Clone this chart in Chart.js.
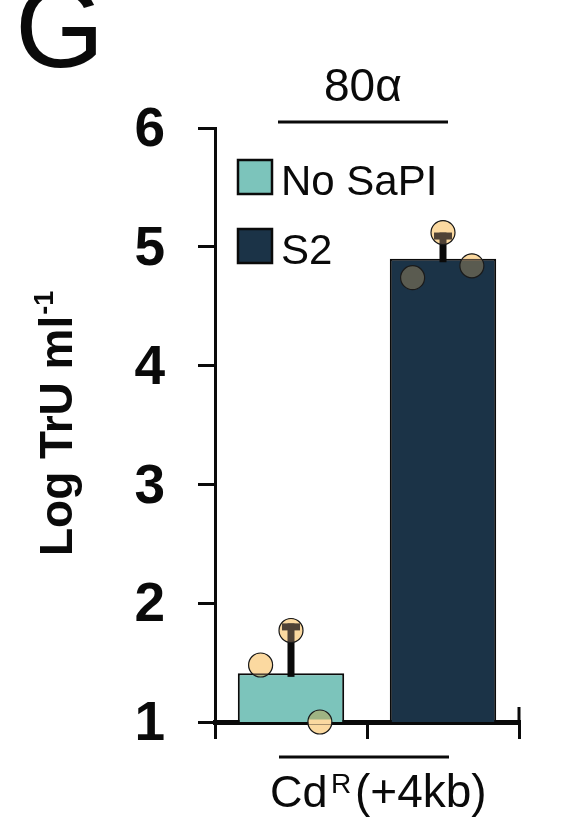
<!DOCTYPE html>
<html>
<head>
<meta charset="utf-8">
<style>
  html, body { margin: 0; padding: 0; background: #fff; }
  canvas { display: block; }
</style>
<script src="https://cdn.jsdelivr.net/npm/chart.js@4/dist/chart.umd.min.js"></script>
</head>
<body>
<canvas id="chart" width="580" height="826"></canvas>
<script>
const categories = ["No SaPI", "S2"];
const seriesNames = ["No SaPI", "S2"];
const noSapiValues = [1.41, null];
const s2Values = [null, 4.9];
const errorTops = [1.83, 5.12];
const errorBottoms = [1.38, 4.87];
const yTicks = [1, 2, 3, 4, 5, 6];
const dots = [
  { x: -0.2, y: 1.48 }, { x: 0, y: 1.77 }, { x: 0.19, y: 1.0 },
  { x: 0.8, y: 4.74 }, { x: 1, y: 5.12 }, { x: 1.19, y: 4.84 }
];

const FONT = '"Liberation Sans", Arial, sans-serif';
const INK = "#0a0a0a";

const extras = {
  id: "extras",
  beforeDatasetDraw(chart, args) {
    const c = chart.ctx, x = chart.scales.x, y = chart.scales.y;
    // error bars sit under the dots
    if (args.index === 2) {
      c.save();
      c.fillStyle = INK;
      categories.forEach((cat, i) => {
        const px = x.getPixelForValue(i);
        const top = y.getPixelForValue(errorTops[i]);
        const bottom = y.getPixelForValue(errorBottoms[i]);
        c.fillRect(px - 3.5, top, 7, bottom - top);
        c.fillRect(px - 9, top, 18, 7);
      });
      // the dot on the axis hides the axis line
      const xd = chart.scales.xDots;
      c.fillStyle = "#fff";
      dots.filter((d) => d.y === y.min).forEach((d) => {
        c.fillRect(xd.getPixelForValue(d.x) - 11.5, y.bottom - 2.5, 23, 5);
      });
      c.restore();
    }
    const mode = chart.data.datasets[args.index].composite;
    if (mode) c.globalCompositeOperation = mode;
  },
  afterDatasetDraw(chart) {
    chart.ctx.globalCompositeOperation = "source-over";
  },
  afterDraw(chart) {
    const c = chart.ctx, x = chart.scales.x, y = chart.scales.y;
    c.save();
    c.fillStyle = INK;
    c.strokeStyle = INK;
    c.textBaseline = "alphabetic";

    // upward part of the last x tick
    c.lineWidth = 3;
    c.beginPath();
    c.moveTo(x.right, y.bottom - 15);
    c.lineTo(x.right, y.bottom);
    c.stroke();

    // brackets above and below the bars
    c.beginPath();
    c.moveTo(278, 122); c.lineTo(448, 122);
    c.moveTo(279, 757); c.lineTo(449, 757);
    c.stroke();

    // legend
    const swatchY = [160, 229];
    const labelY = [195, 264];
    seriesNames.forEach((name, i) => {
      c.fillStyle = chart.data.datasets[i].backgroundColor;
      c.fillRect(238, swatchY[i], 34, 34);
      c.lineWidth = 2.5;
      c.strokeRect(238, swatchY[i], 34, 34);
      c.fillStyle = INK;
      c.font = "42px " + FONT;
      c.fillText(name, 281, labelY[i]);
    });

    c.font = "115px " + FONT;
    c.fillText("G", 15, 67);

    c.font = "46px " + FONT;
    c.fillText("80α", 324, 101);

    c.font = "45px " + FONT;
    c.fillText("Cd", 270, 807);
    c.font = "28px " + FONT;
    c.fillText("R", 331, 793);
    c.font = "46px " + FONT;
    c.fillText("(+4kb)", 355, 807);

    // y title with superscript
    c.translate(72, 556);
    c.rotate(-Math.PI / 2);
    c.font = "bold 46px " + FONT;
    c.fillText("Log TrU ml", 0, 0);
    const w = c.measureText("Log TrU ml").width;
    c.font = "bold 27px " + FONT;
    c.fillText("-1", w + 1, -19);
    c.restore();
  }
};

new Chart(document.getElementById("chart"), {
  type: "bar",
  data: {
    labels: categories,
    datasets: [
      {
        label: seriesNames[0],
        data: noSapiValues,
        backgroundColor: "#7cc4bb",
        borderColor: INK,
        borderWidth: 2,
        grouped: false,
        barPercentage: 0.7,
        categoryPercentage: 1,
        order: 5
      },
      {
        label: seriesNames[1],
        data: s2Values,
        backgroundColor: "#1b3347",
        borderColor: INK,
        borderWidth: 2,
        grouped: false,
        barPercentage: 0.7,
        categoryPercentage: 1,
        order: 4
      },
      // dots go down in three passes so they tint what is under them
      {
        type: "scatter",
        data: dots,
        xAxisID: "xDots",
        composite: "multiply",
        backgroundColor: "#b49e6f",
        borderWidth: 0,
        pointRadius: 12,
        clip: false,
        order: 3
      },
      {
        type: "scatter",
        data: dots,
        xAxisID: "xDots",
        composite: "lighter",
        backgroundColor: "#473b31",
        borderWidth: 0,
        pointRadius: 12,
        clip: false,
        order: 2
      },
      {
        type: "scatter",
        data: dots,
        xAxisID: "xDots",
        backgroundColor: "rgba(0,0,0,0)",
        borderColor: "#1a1a1a",
        borderWidth: 1.2,
        pointRadius: 12,
        clip: false,
        order: 1
      }
    ]
  },
  plugins: [extras],
  options: {
    responsive: false,
    animation: false,
    devicePixelRatio: 1,
    layout: { padding: { top: 128, right: 61, left: 0, bottom: 0 } },
    scales: {
      x: {
        afterFit: (s) => { s.height = 104; },
        grid: {
          offset: true,
          drawOnChartArea: false,
          color: INK,
          lineWidth: 3,
          tickLength: 17
        },
        border: { color: INK, width: 5 },
        ticks: { display: false }
      },
      xDots: { type: "linear", display: false, offset: false, min: -0.5, max: 1.5 },
      y: {
        min: 1,
        max: 6,
        afterFit: (s) => { s.width = 215; },
        afterBuildTicks: (s) => { s.ticks = yTicks.map((v) => ({ value: v })); },
        grid: {
          drawOnChartArea: false,
          color: INK,
          lineWidth: 3,
          tickLength: 17
        },
        border: { color: INK, width: 3 },
        ticks: {
          color: INK,
          padding: 33,
          labelOffset: 3,
          font: { family: FONT, size: 55, weight: "bold" }
        }
      }
    },
    plugins: {
      tooltip: { enabled: false },
      legend: { display: false }
    }
  }
});
</script>
</body>
</html>
